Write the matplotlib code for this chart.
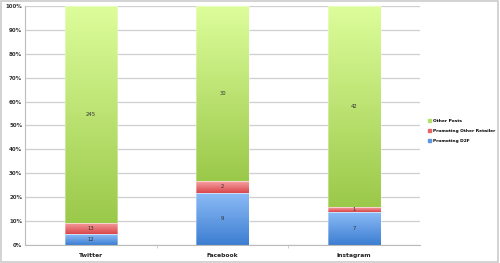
import numpy as np
import matplotlib.pyplot as plt
from matplotlib.colors import LinearSegmentedColormap
from matplotlib.patches import Patch

platforms = ["Twitter", "Facebook", "Instagram"]
d2f = [12, 9, 7]
other_retailer = [13, 2, 1]
other_posts = [245, 30, 42]

series = [
    ("Promoting D2F", d2f, "#8dbcf7", "#3d7ed2", "#5b97e4"),
    ("Promoting Other Retailer", other_retailer, "#f7a3a3", "#d8464b", "#e86566"),
    ("Other Posts", other_posts, "#ddfd9b", "#9bc94a", "#b5e06a"),
]

fig = plt.figure(figsize=(5, 2.63), dpi=100)
ax = fig.add_axes([0.05, 0.068, 0.79, 0.91])

totals = np.array(d2f) + np.array(other_retailer) + np.array(other_posts)
bottom = np.zeros(len(platforms))
width = 0.4
grad = np.linspace(0, 1, 100).reshape(-1, 1)
for name, vals, top_c, bot_c, mid_c in series:
    pct = np.array(vals) / totals * 100
    cmap = LinearSegmentedColormap.from_list(name, [bot_c, top_c])
    for i in range(len(platforms)):
        x0, x1 = i - width / 2, i + width / 2
        y0, y1 = bottom[i], bottom[i] + pct[i]
        ax.imshow(grad, cmap=cmap, extent=(x0, x1, y0, y1), origin="lower",
                  aspect="auto", zorder=2, interpolation="bilinear")
        ax.add_patch(plt.Rectangle((x0, y0), width, pct[i], fill=False,
                                   edgecolor="white", lw=0.4, alpha=0.6, zorder=3))
        ax.text(i, y0 + pct[i] / 2, str(vals[i]), ha="center", va="center",
                fontsize=3.8, color="#333333", zorder=4)
    bottom += pct

ax.set_xlim(-0.5, 2.5)
ax.set_ylim(0, 100)
ax.set_yticks(np.arange(0, 101, 10))
ax.set_yticklabels([f"{v}%" for v in range(0, 101, 10)], fontsize=4, fontweight="bold", color="#333333")
ax.set_xticks(range(3))
ax.set_xticklabels(platforms, fontsize=4.3, fontweight="bold", color="#222222")
ax.set_xticks([0.5, 1.5], minor=True)
ax.tick_params(axis="x", which="major", length=0, pad=6)
ax.tick_params(axis="x", which="minor", length=2, color="#bbbbbb", width=0.5)
ax.tick_params(axis="y", length=0, pad=2)
ax.yaxis.grid(True, color="#cfcfcf", lw=0.9)
ax.set_axisbelow(True)
for s in ["top", "right"]:
    ax.spines[s].set_visible(False)
for s in ["left", "bottom"]:
    ax.spines[s].set_color("#bbbbbb")
    ax.spines[s].set_linewidth(0.8)

handles = [Patch(color=c, label=n) for n, _, _, _, c in reversed(series)]
fig.legend(handles=handles, loc="center left", bbox_to_anchor=(0.856, 0.502),
           frameon=False, prop={"size": 3.2, "weight": "bold"},
           handlelength=0.7, handleheight=0.7, handletextpad=0.4, labelspacing=1.3,
           borderaxespad=0, borderpad=0)

fig.patches.append(plt.Rectangle((0.002, 0.004), 0.994, 0.992, transform=fig.transFigure,
                                 fill=False, edgecolor="#cccccc", lw=1.2))
fig.savefig("out.png", dpi=100)
